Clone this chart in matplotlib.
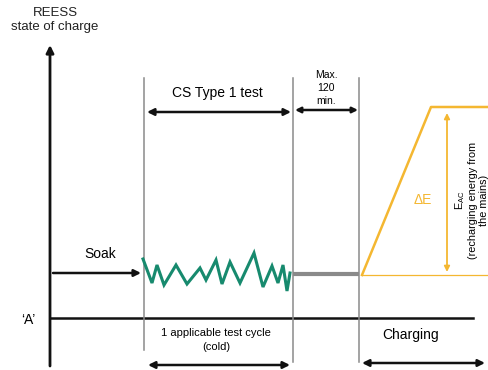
import matplotlib
matplotlib.use("Agg")
import matplotlib.pyplot as plt

plt.rcParams['font.family'] = ['Liberation Sans', 'DejaVu Sans']

# Drive-cycle SOC trace (CS Type 1 test), x = time, y = state of charge (image units)
cycle_t = [143, 152, 157, 164, 176, 187, 200, 206, 216, 222, 230, 240, 254, 263, 272, 278, 283, 287, 290]
cycle_soc = [259, 283, 265, 285, 265, 284, 268, 280, 260, 284, 262, 283, 253, 287, 266, 283, 265, 291, 273]

# Soak / wait segment
wait_t = [293, 359]
wait_soc = [274, 274]

# Charging curve
charge_t = [362, 431, 488]
charge_soc = [275, 107, 107]
ref_t = [362, 488]
ref_soc = [275, 275]

# Phase boundaries
phase_x = [144, 293, 359]
phase_bottom = [350, 362, 362]

BLACK = '#111111'
GREEN = '#178a6e'
ORANGE = '#f4b731'
GRAY = '#8a8a8a'

fig = plt.figure(figsize=(4.88, 3.70), dpi=100)
ax = fig.add_axes([0, 0, 1, 1])
ax.set_xlim(0, 488)
ax.set_ylim(370, 0)
ax.axis('off')

def arrow(x0, y0, x1, y1, style='-|>', color=BLACK, lw=1.6, ms=10):
    ax.annotate('', xy=(x1, y1), xytext=(x0, y0),
                arrowprops=dict(arrowstyle=style, color=color, lw=lw,
                                mutation_scale=ms, shrinkA=0, shrinkB=0))

# Y axis
arrow(50, 366, 50, 45, lw=2.0, ms=11)
ax.text(55, 20, 'REESS\nstate of charge', ha='center', va='center', fontsize=9.5, linespacing=1.3, color='#222222')

# Baseline 'A'
ax.plot([50, 473], [318, 318], color=BLACK, lw=1.8)
ax.text(28, 320, '\u2018A\u2019', ha='center', va='center', fontsize=10)

# Phase vertical lines
for x, yb in zip(phase_x, phase_bottom):
    ax.plot([x, x], [78, yb], color=GRAY, lw=1.1)

# Top arrows
arrow(147, 112, 291, 112, style='<|-|>', lw=1.8)
ax.text(217, 93, 'CS Type 1 test', ha='center', va='center', fontsize=10)
arrow(295, 110, 358, 110, style='<|-|>', lw=1.8, ms=8)
ax.text(326, 88, 'Max.\n120\nmin.', ha='center', va='center', fontsize=7.5, linespacing=1.35)

# Soak
arrow(53, 273, 141, 273, lw=1.8)
ax.text(100, 254, 'Soak', ha='center', va='center', fontsize=10)

# Traces
ax.plot(cycle_t, cycle_soc, color=GREEN, lw=2.2, solid_joinstyle='miter')
ax.plot(wait_t, wait_soc, color=GRAY, lw=3.0, solid_capstyle='butt')
ax.plot(charge_t, charge_soc, color=ORANGE, lw=1.8)
ax.plot(ref_t, ref_soc, color=ORANGE, lw=0.9)

# Delta E arrow
arrow(447, 113, 447, 272, style='<|-|>', color=ORANGE, lw=1.3, ms=8)
ax.text(423, 200, '\u0394E', ha='center', va='center', fontsize=10, color=ORANGE)
ax.text(471, 200, 'E$_{\\mathregular{AC}}$\n(recharging energy from\nthe mains)', ha='center', va='center',
        fontsize=7.8, rotation=90, linespacing=1.1)

# Bottom labels
ax.text(216, 340, '1 applicable test cycle\n(cold)', ha='center', va='center', fontsize=8, linespacing=1.4)
arrow(148, 365, 290, 365, style='<|-|>', lw=1.8)
ax.text(411, 335, 'Charging', ha='center', va='center', fontsize=10)
arrow(362, 363, 485, 363, style='<|-|>', lw=1.8)

fig.savefig('out.png', dpi=100)
